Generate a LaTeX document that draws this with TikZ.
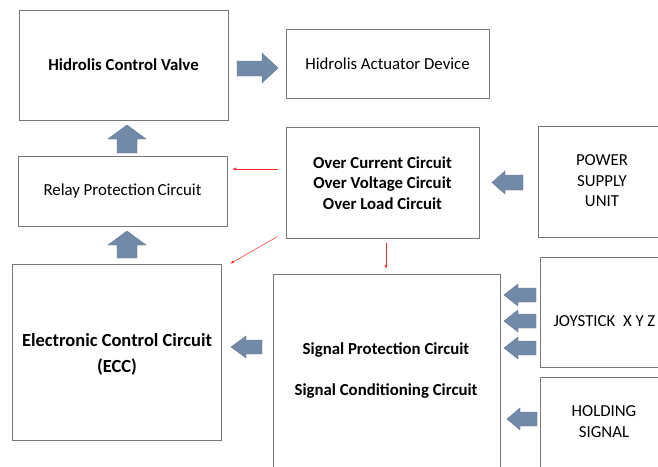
\documentclass[tikz,border=0pt]{standalone}
\usepackage{fontspec}
\setmainfont{Carlito}
\usetikzlibrary{calc,arrows.meta}
\definecolor{boxline}{RGB}{120,120,120}
\definecolor{arrfill}{RGB}{114,138,168}
\definecolor{arrline}{RGB}{96,118,146}
\begin{document}
\begin{tikzpicture}[x=1pt,y=-1pt,
  blk/.style={draw=boxline,line width=1pt,fill=white,inner sep=0pt,align=center},
  txt/.style={inner sep=0pt,align=center,font=\fontsize{16.8}{20.5}\selectfont},
  btxt/.style={txt,font=\fontsize{16.8}{20.8}\selectfont\bfseries},
  barrow/.style={fill=arrfill,draw=arrline,line width=0.4pt},
  redarr/.style={draw=red!85!white,line width=0.5pt,-{Latex[length=3.5pt,width=3pt]}}]
\useasboundingbox (0,0) rectangle (658,466);
\clip (0,0) rectangle (658,466);
\fill[white] (0,0) rectangle (658,466);
% boxes
\node[blk,minimum width=209,minimum height=110] (hcv) at (123.5,65) {};
\node[btxt] at (hcv) {Hidrolis Control Valve};
\node[blk,minimum width=203,minimum height=69] (had) at (387.5,63.5) {};
\node[txt] at (had) {Hidrolis Actuator Device};
\node[blk,minimum width=209,minimum height=70] (relay) at (122.5,191) {};
\node[txt] at (relay) {Relay Protection\,Circuit};
\node[blk,minimum width=193,minimum height=111] (oc) at (382.5,182.5) {};
\node[btxt] at (382.5,183) {Over Current Circuit\\Over Voltage Circuit\\Over Load Circuit};
\node[blk,minimum width=128,minimum height=111] (ps) at (602,181.5) {};
\node[txt] at (602,181) {POWER\\SUPPLY\\UNIT};
\node[blk,minimum width=209,minimum height=176] (ecc) at (116.5,352) {};
\node[btxt,font=\fontsize{18.5}{26}\selectfont\bfseries] at (117,354) {Electronic Control Circuit\\(ECC)};
\node[blk,minimum width=227,minimum height=206] (sig) at (386.5,377) {};
\node[btxt,font=\fontsize{16.8}{41}\selectfont\bfseries] at (386,370.5) {Signal Protection Circuit\\Signal Conditioning Circuit};
\node[blk,minimum width=125,minimum height=110] (joy) at (603,312) {};
\node[txt] at (604.5,321) {JOYSTICK\ \ X Y Z};
\node[blk,minimum width=125,minimum height=103] (hold) at (603,428.5) {};
\node[txt] at (604,421.5) {HOLDING\\SIGNAL};
% block arrows
\draw[barrow] (237,61)--(262,61)--(262,53)--(278,68)--(262,83)--(262,76)--(237,76)--cycle;
\draw[barrow] (117,153)--(117,139)--(108,139)--(127,125)--(146,139)--(137,139)--(137,153)--cycle;
\draw[barrow] (117,258)--(117,245)--(108,245)--(127,231)--(146,245)--(137,245)--(137,258)--cycle;
\draw[barrow] (523,175)--(505,175)--(505,171)--(492,182.5)--(505,194)--(505,190)--(523,190)--cycle;
\foreach \y in {295,321,348}{
  \draw[barrow] (536,\y-7)--(518,\y-7)--(518,\y-11)--(504,\y)--(518,\y+11)--(518,\y+7)--(536,\y+7)--cycle;}
\draw[barrow] (537,412)--(520,412)--(520,408)--(507,419)--(520,430)--(520,426)--(537,426)--cycle;
\draw[barrow] (262,340)--(246,340)--(246,336)--(231,347)--(246,358)--(246,354)--(262,354)--cycle;
% red arrows
\coordinate (r1s) at ($(oc.west)+(-8,-13.5)$);
\coordinate (r1e) at ($(relay.east)+(5,-22)$);
\draw[redarr] (r1s) -- (r1e);
\coordinate (r2s) at ($(oc.south west)+(-8,-2)$);
\coordinate (r2e) at ($(ecc.north east)+(9,0)$);
\draw[redarr] (r2s) -- (r2e);
\coordinate (r3s) at ($(oc.south)+(3.5,4)$);
\coordinate (r3e) at ($(oc.south)+(3.5,30)$);
\draw[redarr] (r3s) -- (r3e);
\end{tikzpicture}
\end{document}
